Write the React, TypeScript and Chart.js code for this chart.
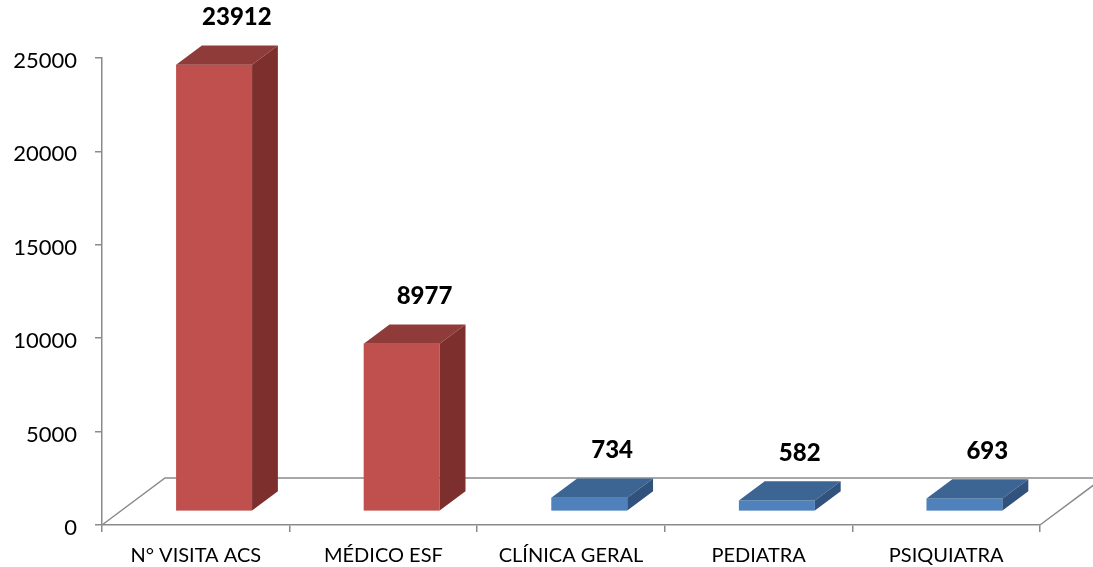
import React, { useEffect, useRef } from "react";
import { Chart, registerables } from "chart.js";

Chart.register(...registerables);

const categories = ["N° VISITA ACS", "MÉDICO ESF", "CLÍNICA GERAL", "PEDIATRA", "PSIQUIATRA"];
const values = [23912, 8977, 734, 582, 693];
const yMin = 0;
const yMax = 25000;
const yStep = 5000;

const frontColors = ["#C0504D", "#C0504D", "#4F81BD", "#4F81BD", "#4F81BD"];
const topColors = ["#8F3B39", "#8F3B39", "#3D6593", "#3D6593", "#3D6593"];
const sideColors = ["#7D2F2E", "#7D2F2E", "#30527D", "#30527D", "#30527D"];

const AXIS_COLOR = "#8A8A8A";
const FLOOR_DX = 63;
const FLOOR_DY = -47;
const BAR_FRONT = 0.29;
const BAR_DEPTH = 0.41;

const threeD = {
  id: "threeD",
  beforeDatasetsDraw(chart: any) {
    const { ctx, chartArea } = chart;
    const { left, right, bottom } = chartArea;
    ctx.save();
    ctx.strokeStyle = AXIS_COLOR;
    ctx.lineWidth = 1.5;
    ctx.beginPath();
    ctx.moveTo(left, bottom);
    ctx.lineTo(left + FLOOR_DX, bottom + FLOOR_DY);
    ctx.lineTo(right + FLOOR_DX, bottom + FLOOR_DY);
    ctx.lineTo(right, bottom);
    ctx.stroke();
    ctx.restore();
  },
  afterDatasetsDraw(chart: any) {
    const { ctx } = chart;
    const meta = chart.getDatasetMeta(0);
    const ox = FLOOR_DX * BAR_FRONT;
    const oy = FLOOR_DY * BAR_FRONT;
    const dx = FLOOR_DX * BAR_DEPTH;
    const dy = FLOOR_DY * BAR_DEPTH;
    ctx.save();
    meta.data.forEach((bar: any, i: number) => {
      const { x, y, base, width } = bar.getProps(["x", "y", "base", "width"], true);
      const l = x - width / 2 + ox;
      const r = x + width / 2 + ox;
      const t = y + oy;
      const b = base + oy;
      // front
      ctx.fillStyle = frontColors[i];
      ctx.fillRect(l, t, r - l, b - t);
      // top
      ctx.fillStyle = topColors[i];
      ctx.beginPath();
      ctx.moveTo(l, t);
      ctx.lineTo(l + dx, t + dy);
      ctx.lineTo(r + dx, t + dy);
      ctx.lineTo(r, t);
      ctx.closePath();
      ctx.fill();
      // side
      ctx.fillStyle = sideColors[i];
      ctx.beginPath();
      ctx.moveTo(r, t);
      ctx.lineTo(r + dx, t + dy);
      ctx.lineTo(r + dx, b + dy);
      ctx.lineTo(r, b);
      ctx.closePath();
      ctx.fill();
      // label
      ctx.fillStyle = "#000";
      ctx.font = "900 24px Lato";
      ctx.textAlign = "center";
      ctx.textBaseline = "middle";
      ctx.fillText(String(values[i]), x + ox + dx - 3, t + dy - 28);
    });
    ctx.restore();
  },
};

export default function App() {
  const canvasRef = useRef<HTMLCanvasElement>(null);

  useEffect(() => {
    if (!canvasRef.current) return;
    const chart = new Chart(canvasRef.current, {
      type: "bar",
      data: {
        labels: categories,
        datasets: [
          {
            data: values,
            backgroundColor: "rgba(0,0,0,0)",
            borderWidth: 0,
            barPercentage: 0.405,
            categoryPercentage: 1,
          },
        ],
      },
      options: {
        animation: false,
        responsive: true,
        maintainAspectRatio: false,
        layout: { padding: { top: 58, right: 53, bottom: 0, left: 0 } },
        plugins: { legend: { display: false }, tooltip: { enabled: false } },
        scales: {
          x: {
            offset: true,
            afterFit: (s: any) => {
              s.height = 42;
            },
            border: { display: true, color: AXIS_COLOR, width: 1.5 },
            grid: {
              offset: true,
              drawOnChartArea: false,
              drawTicks: true,
              tickLength: 7,
              color: AXIS_COLOR,
              lineWidth: 1.5,
            },
            ticks: {
              color: "#000",
              padding: 12,
              maxRotation: 0,
              font: { family: "Lato", size: 20 },
            },
          },
          y: {
            min: yMin,
            max: yMax,
            afterFit: (s: any) => {
              s.width = 102;
            },
            border: { display: true, color: AXIS_COLOR, width: 1.5 },
            grid: {
              drawOnChartArea: false,
              drawTicks: true,
              tickLength: 7,
              color: AXIS_COLOR,
              lineWidth: 1.5,
            },
            ticks: {
              stepSize: yStep,
              color: "#000",
              padding: 18,
              labelOffset: 3,
              font: { family: "Lato", size: 22 },
              callback: (v: any) => String(v),
            },
          },
        },
      },
      plugins: [threeD],
    });
    return () => chart.destroy();
  }, []);

  return (
    <div style={{ position: "absolute", left: 0, top: 0, width: 1093, height: 567, background: "#fff" }}>
      <canvas ref={canvasRef} />
    </div>
  );
}
